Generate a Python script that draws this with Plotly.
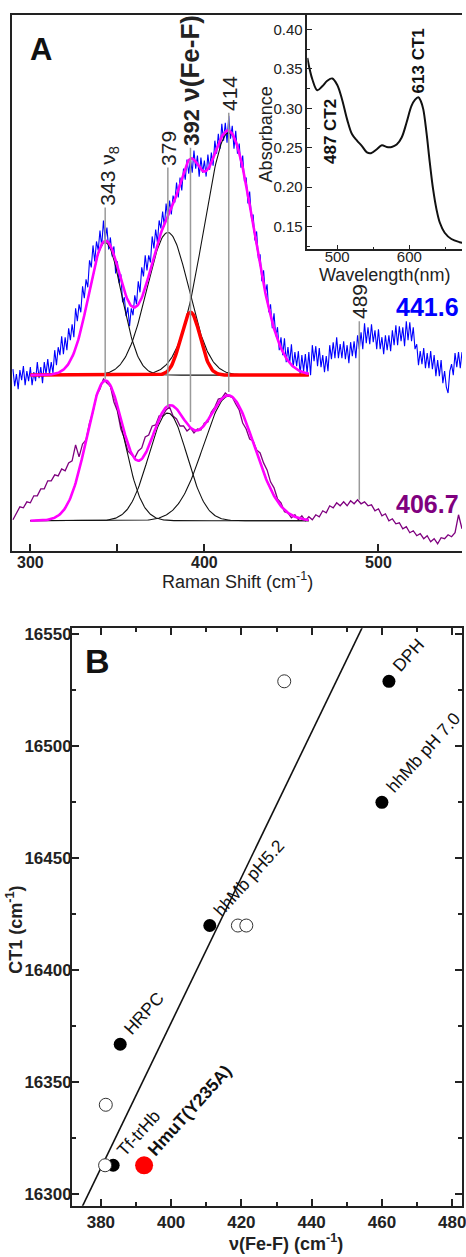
import numpy as np
import plotly.graph_objects as go

W, H = 466, 1257
FONT = "Liberation Sans, Arial, sans-serif"
INK = "#222222"

# ---------------- Panel A : resonance Raman spectra ----------------
blue_shift = list(range(290, 549))  # cm-1, 1 cm-1 steps (441.6 nm excitation)
blue_441 = [182, 165, 177, 162, 181, 171, 185, 166, 180, 170,
            184, 166, 179, 170, 189, 173, 184, 168, 189, 177,
            192, 177, 189, 178, 201, 186, 204, 196, 215, 197,
            214, 201, 223, 211, 227, 214, 243, 230, 247, 239,
            265, 253, 272, 264, 291, 284, 306, 290, 310, 301,
            321, 305, 331, 312, 324, 302, 314, 295, 305, 278,
            290, 268, 277, 249, 254, 235, 244, 225, 243, 236,
            256, 247, 270, 259, 284, 275, 296, 281, 296, 289,
            315, 303, 322, 309, 331, 323, 340, 325, 348, 332,
            351, 337, 356, 349, 369, 354, 374, 361, 383, 372,
            392, 378, 393, 379, 401, 383, 396, 375, 394, 379,
            391, 375, 397, 382, 399, 386, 411, 398, 418, 403,
            428, 411, 429, 409, 436, 413, 426, 403, 421, 398,
            408, 384, 396, 370, 374, 348, 360, 334, 337, 311,
            320, 293, 297, 270, 281, 258, 267, 239, 247, 223,
            238, 215, 224, 201, 214, 196, 213, 189, 204, 188,
            207, 184, 199, 185, 200, 177, 196, 180, 197, 178,
            199, 176, 206, 190, 205, 185, 203, 184, 196, 179,
            195, 180, 206, 192, 209, 193, 214, 193, 207, 193,
            210, 192, 206, 188, 209, 195, 210, 193, 216, 202,
            219, 202, 228, 208, 224, 207, 227, 209, 221, 202,
            222, 202, 214, 197, 216, 201, 216, 200, 221, 206,
            226, 206, 225, 210, 224, 205, 230, 211, 229, 210,
            224, 202, 207, 186, 200, 187, 203, 183, 198, 183,
            200, 182, 196, 175, 191, 175, 191, 168, 180, 164,
            158, 180, 187, 176, 198, 184, 199, 183, 199]
purple_shift = list(range(290, 550, 2))  # cm-1, 2 cm-1 steps (406.7 nm excitation)
purple_406 = [31, 37, 44, 43, 49, 48, 55, 55, 62, 62,
              70, 70, 76, 75, 82, 80, 88, 90, 106, 94,
              107, 111, 128, 139, 156, 162, 172, 168, 165, 149,
              140, 122, 113, 100, 96, 93, 100, 103, 114, 116,
              125, 126, 135, 135, 141, 144, 135, 132, 125, 125,
              120, 123, 118, 122, 121, 128, 129, 139, 144, 152,
              153, 158, 155, 154, 147, 141, 128, 122, 112, 110,
              101, 98, 88, 81, 69, 63, 52, 48, 39, 38,
              33, 36, 31, 35, 30, 34, 31, 36, 34, 40,
              38, 45, 43, 48, 45, 49, 45, 50, 47, 51,
              47, 49, 45, 46, 40, 42, 35, 37, 30, 32,
              27, 28, 22, 24, 18, 20, 15, 17, 12, 15,
              9, 12, 7, 13, 12, 16, 14, 18, 36, 22]

# Gaussian band-fit parameters
blue_band_center = [343, 379, 392, 414]
blue_band_height = [133, 143, 63, 243]
blue_band_sigma = [9.5, 12.0, 5.6, 14.3]
blue_baseline = 176
purple_band_center = [343, 379, 414]
purple_band_height = [140, 108, 125]
purple_band_sigma = [10.5, 11.0, 14.5]
purple_baseline = 30
fit_range = [300, 460]

line_pos = [343, 379, 392, 414, 489]
line_top = [344, 384, 404, 439, 230]
line_bottom = [172, 144, 129, 159, 51]
line_labels = ["343 ν<sub>8</sub>", "379",
               "<b>392<span style='font-size:26px'> ν(Fe-F)</span></b>", "414", "489"]

# Inset: absorption spectrum
wavelength = [458.7, 465.6, 472.5, 479.4, 486.3, 493.2, 500.0, 506.9, 513.8, 520.7,
              527.5, 534.4, 541.3, 546.8, 555.0, 562.0, 568.7, 575.6, 582.5, 589.4,
              596.2, 603.0, 608.0, 612.5, 616.0, 619.3, 623.8, 628.4, 633.0, 637.6,
              642.2, 649.0, 658.3, 669.8, 680.0]
absorbance = [0.364, 0.337, 0.323, 0.328, 0.335, 0.338, 0.330, 0.311, 0.286, 0.267,
              0.259, 0.252, 0.244, 0.243, 0.248, 0.253, 0.251, 0.251, 0.254, 0.263,
              0.282, 0.303, 0.311, 0.314, 0.309, 0.299, 0.269, 0.231, 0.197, 0.172,
              0.155, 0.142, 0.134, 0.130, 0.128]

# ---------------- Panel B : CT1 vs v(Fe-F) ----------------
filled_x = [462.0, 460.0, 411.0, 385.5, 383.5]
filled_y = [16529, 16475, 16420, 16367, 16313]
filled_labels = ["DPH", "hhMb pH 7.0", "hhMb pH5.2", "HRPC", "Tf-trHb"]
hmut_x = [392.3]
hmut_y = [16313]
hmut_label = ["<b>HmuT(Y235A)</b>"]
open_x = [432.2, 419.0, 421.4, 381.4, 381.2]
open_y = [16529, 16420, 16420, 16340, 16313]
fit_slope = 3.243
fit_intercept = 15079.4
fit_xspan = [372, 456]


def px(xp):
    return xp / W


def py(yp):
    return 1 - yp / H


fig = go.Figure()

# raw spectra
fig.add_trace(go.Scatter(x=blue_shift, y=blue_441, mode="lines",
                         line=dict(color="#0000ff", width=1.1), xaxis="x", yaxis="y"))
fig.add_trace(go.Scatter(x=purple_shift, y=purple_406, mode="lines",
                         line=dict(color="#7f007f", width=1.3), xaxis="x", yaxis="y"))

fx = np.arange(fit_range[0], fit_range[1] + 0.25, 0.5)


def band(c, h, s, base):
    return base + h * np.exp(-(fx - c) ** 2 / (2 * s ** 2))


# black components
for c, h, s in zip(blue_band_center, blue_band_height, blue_band_sigma):
    if c == 392:
        continue
    fig.add_trace(go.Scatter(x=fx, y=band(c, h, s, blue_baseline), mode="lines",
                             line=dict(color="#111111", width=1.1), xaxis="x", yaxis="y"))
for c, h, s in zip(purple_band_center, purple_band_height, purple_band_sigma):
    fig.add_trace(go.Scatter(x=fx, y=band(c, h, s, purple_baseline), mode="lines",
                             line=dict(color="#111111", width=1.1), xaxis="x", yaxis="y"))
# red Fe-F band
i392 = blue_band_center.index(392)
fig.add_trace(go.Scatter(x=fx, y=band(392, blue_band_height[i392], blue_band_sigma[i392], blue_baseline),
                         mode="lines", line=dict(color="#ff0000", width=3.5), xaxis="x", yaxis="y"))
# magenta total fits
tot_b = blue_baseline + sum(band(c, h, s, 0) for c, h, s in
                            zip(blue_band_center, blue_band_height, blue_band_sigma))
tot_p = purple_baseline + sum(band(c, h, s, 0) for c, h, s in
                              zip(purple_band_center, purple_band_height, purple_band_sigma))
for tot in (tot_b, tot_p):
    fig.add_trace(go.Scatter(x=fx, y=tot, mode="lines",
                             line=dict(color="#ff00ff", width=2.6), xaxis="x", yaxis="y"))

# gray marker lines
gx, gy = [], []
for xv, t, b in zip(line_pos, line_top, line_bottom):
    gx += [xv, xv, None]
    gy += [t, b, None]
fig.add_trace(go.Scatter(x=gx, y=gy, mode="lines", line=dict(color="#9a9a9a", width=1.5),
                         xaxis="x", yaxis="y"))

# inset spectrum
fig.add_trace(go.Scatter(x=wavelength, y=absorbance, mode="lines", line_shape="spline",
                         line=dict(color="#111111", width=2), xaxis="x2", yaxis="y2"))

# panel B
lx = np.array(fit_xspan, dtype=float)
fig.add_trace(go.Scatter(x=lx, y=fit_intercept + fit_slope * lx, mode="lines",
                         line=dict(color="#111111", width=1.6), xaxis="x3", yaxis="y3"))
fig.add_trace(go.Scatter(x=filled_x, y=filled_y, mode="markers",
                         marker=dict(color="#000000", size=13), xaxis="x3", yaxis="y3"))
fig.add_trace(go.Scatter(x=hmut_x, y=hmut_y, mode="markers",
                         marker=dict(color="#ff0000", size=18), xaxis="x3", yaxis="y3"))
fig.add_trace(go.Scatter(x=open_x, y=open_y, mode="markers",
                         marker=dict(color="#ffffff", size=13, line=dict(color="#333333", width=1)),
                         xaxis="x3", yaxis="y3"))

ann = []
# line labels (panel A)
for xv, t, lab in zip(line_pos, line_top, line_labels):
    ann.append(dict(x=xv, y=t, xref="x", yref="y", text=lab, showarrow=False, textangle=-90,
                    xanchor="center", yanchor="bottom", xshift=3 if xv == 343 else 0,
                    font=dict(family=FONT, size=22 if xv == 392 else 21, color=INK)))
ann += [
    dict(x=px(28), y=py(47), xref="paper", yref="paper", text="<b>A</b>", showarrow=False,
         xanchor="left", yanchor="middle", font=dict(family=FONT, size=31, color="#111")),
    dict(x=px(397), y=py(305), xref="paper", yref="paper", text="<b>441.6</b>", showarrow=False,
         xanchor="left", yanchor="middle", font=dict(family=FONT, size=25, color="#0000ff")),
    dict(x=px(397), y=py(502), xref="paper", yref="paper", text="<b>406.7</b>", showarrow=False,
         xanchor="left", yanchor="middle", font=dict(family=FONT, size=25, color="#7f007f")),
    dict(x=px(240), y=py(579), xref="paper", yref="paper", text="Raman Shift (cm<sup>-1</sup>)",
         showarrow=False, xanchor="center", yanchor="middle", font=dict(family=FONT, size=18, color=INK)),
    dict(x=px(268), y=py(132), xref="paper", yref="paper", text="Absorbance", textangle=-90,
         showarrow=False, xanchor="center", yanchor="middle", font=dict(family=FONT, size=18, color=INK)),
    dict(x=px(388), y=py(273), xref="paper", yref="paper", text="Wavelength(nm)",
         showarrow=False, xanchor="center", yanchor="middle", font=dict(family=FONT, size=18, color=INK)),
    dict(x=490, y=0.2273, xref="x2", yref="y2", text="<b>487 CT2</b>", textangle=-90, showarrow=False,
         xanchor="center", yanchor="bottom", font=dict(family=FONT, size=17, color="#111")),
    dict(x=612, y=0.317, xref="x2", yref="y2", text="<b>613 CT1</b>", textangle=-90, showarrow=False,
         xanchor="center", yanchor="bottom", font=dict(family=FONT, size=17, color="#111")),
    dict(x=px(84), y=py(660), xref="paper", yref="paper", text="<b>B</b>", showarrow=False,
         xanchor="left", yanchor="middle", font=dict(family=FONT, size=34, color="#111")),
    dict(x=px(288), y=py(1242), xref="paper", yref="paper", text="<b>ν(Fe-F) (cm<sup>-1</sup>)</b>",
         showarrow=False, xanchor="center", yanchor="middle", font=dict(family=FONT, size=18, color=INK)),
    dict(x=px(15), y=py(929), xref="paper", yref="paper", text="<b>CT1 (cm<sup>-1</sup>)</b>",
         textangle=-90, showarrow=False, xanchor="center", yanchor="middle",
         font=dict(family=FONT, size=18, color=INK)),
]
for xv, yv, lab in list(zip(filled_x, filled_y, filled_labels)) + list(zip(hmut_x, hmut_y, hmut_label)):
    ann.append(dict(x=xv, y=yv, xref="x3", yref="y3", text=lab, showarrow=False, textangle=-48,
                    xanchor="left", yanchor="bottom", xshift=-3, yshift=3,
                    font=dict(family=FONT, size=17.5, color="#111")))

axis_common = dict(showgrid=False, zeroline=False, linecolor=INK, tickcolor=INK)

fig.update_layout(
    width=W, height=H, margin=dict(l=0, r=0, t=0, b=0),
    paper_bgcolor="white", plot_bgcolor="white", showlegend=False,
    annotations=ann,
    xaxis=dict(domain=[px(12), 1], range=[289.4, 548.0], anchor="y", showline=True, linewidth=2,
               mirror=True, ticks="inside", ticklen=7, tickwidth=1.5, tickvals=[300, 400, 500],
               ticklabelstandoff=-4,
               minor=dict(tickvals=[350, 450], ticks="inside", ticklen=7, tickwidth=1.5, tickcolor=INK),
               tickfont=dict(family=FONT, size=16, color=INK, weight="bold"), **axis_common),
    yaxis=dict(domain=[py(549), py(12)], range=[0, 537], anchor="x", showline=True, linewidth=2,
               showticklabels=False, ticks="", **axis_common),
    xaxis2=dict(domain=[px(310), 1], range=[458.7, 673.0], anchor="y2", showline=True, linewidth=1.5,
                ticks="inside", ticklen=5, tickwidth=1.2, dtick=100, tick0=0, ticklabelstandoff=-7,
                minor=dict(dtick=50, ticks="inside", ticklen=3, tickcolor=INK),
                tickfont=dict(family=FONT, size=15, color=INK), **axis_common),
    yaxis2=dict(domain=[py(247), py(12)], range=[0.1208, 0.4186], anchor="x2", showline=True,
                linewidth=1.5, ticks="inside", ticklen=5, tickwidth=1.2, dtick=0.05, tick0=0,
                tickformat=".2f", minor=dict(dtick=0.025, ticks="inside", ticklen=3, tickcolor=INK),
                tickfont=dict(family=FONT, size=15, color=INK), **axis_common),
    xaxis3=dict(domain=[px(72.7), 1], range=[371.8, 482.8], anchor="y3", showline=True, linewidth=2,
                mirror="ticks", ticks="inside", ticklen=7, tickwidth=1.5, dtick=20, tick0=0,
                minor=dict(dtick=10, ticks="inside", ticklen=4, tickcolor=INK),
                ticklabeloverflow="allow",
                tickfont=dict(family=FONT, size=17, color=INK, weight="bold"), **axis_common),
    yaxis3=dict(domain=[py(1205.7), py(626.7)], range=[16294.9, 16552.7], anchor="x3", showline=True,
                linewidth=2, mirror="ticks", ticks="inside", ticklen=7, tickwidth=1.5, dtick=50, tick0=0,
                tickformat="d", minor=dict(dtick=25, ticks="inside", ticklen=4, tickcolor=INK),
                ticklabeloverflow="allow", ticklabelstandoff=-5,
                tickfont=dict(family=FONT, size=17, color=INK, weight="bold"), **axis_common),
)

fig.write_html("out.html")
